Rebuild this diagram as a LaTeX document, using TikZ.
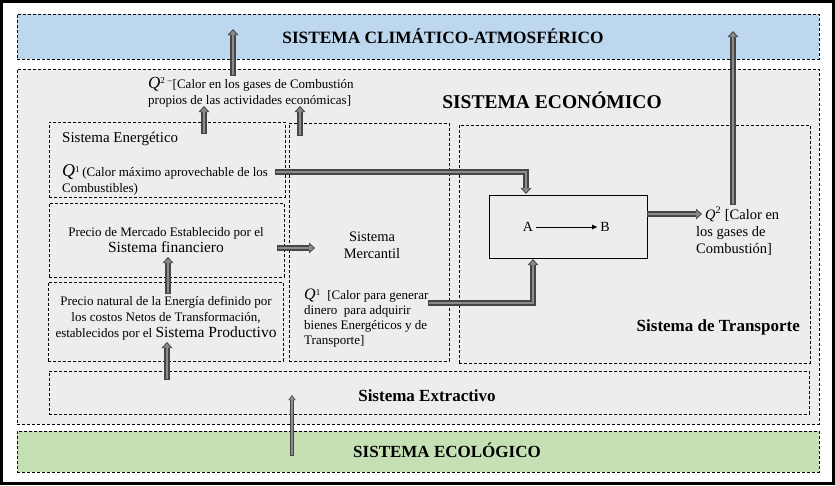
\documentclass[tikz,border=0pt]{standalone}
\usepackage{fontspec}
\setmainfont{Liberation Serif}
\usetikzlibrary{arrows.meta}
\definecolor{bandblue}{RGB}{189,215,238}
\definecolor{bandgreen}{RGB}{197,224,180}
\definecolor{econgrey}{RGB}{237,237,237}
\definecolor{arrdark}{RGB}{70,70,70}
\definecolor{arrmid}{RGB}{140,140,140}
\newcommand\fs[2]{\fontsize{#1}{#2}\selectfont}
\newcommand\bigQ[2]{{\fs{#1}{#1}\itshape Q}\textsuperscript{#2}}
\newcommand\barrow[1]{\draw[bouter] #1; \draw[binner] #1;}
\newcommand\sarrow[1]{\draw[souter] #1; \draw[sinner] #1;}
\begin{document}
\begin{tikzpicture}[x=1pt,y=-1pt,
  dbox/.style={draw, dash pattern=on 3pt off 2pt, line width=0.6pt, inner sep=0pt, outer sep=0pt, anchor=north west},
  txt/.style={inner sep=0pt, font=\fs{13}{16}},
  bouter/.style={draw=arrdark, line width=5.6pt, line join=miter, -{Triangle[length=6pt,width=10.5pt]}},
  binner/.style={draw=arrmid, line width=2.8pt, line join=miter, shorten >=1.5pt, shorten <=0.9pt, -{Triangle[length=4.2pt,width=7pt]}},
  souter/.style={draw=arrdark, line width=3.4pt, -{Triangle[length=5pt,width=7pt]}},
  sinner/.style={draw=arrmid, line width=1.6pt, shorten >=1.2pt, shorten <=0.8pt, -{Triangle[length=3.5pt,width=4.6pt]}}
]
\useasboundingbox (0,0) rectangle (835,485);
\draw[line width=3pt] (1.5,1.5) rectangle (833.5,483.5);

% bands
\node[dbox, fill=bandblue, minimum width=802pt, minimum height=45pt] (clima) at (17,14) {};
\node[dbox, fill=econgrey, minimum width=802pt, minimum height=355pt] (econ) at (17,69) {};
\node[dbox, fill=bandgreen, minimum width=802pt, minimum height=41pt] (eco) at (17,431) {};

% inner boxes
\node[dbox, minimum width=236pt, minimum height=75pt] (energ) at (49,122) {};
\node[dbox, minimum width=235pt, minimum height=74pt] (merc) at (49,203) {};
\node[dbox, minimum width=235pt, minimum height=79pt] (prod) at (48,282) {};
\node[dbox, minimum width=160pt, minimum height=238pt] (mcant) at (289,123) {};
\node[dbox, minimum width=351pt, minimum height=238pt] (transp) at (459,125) {};
\node[dbox, minimum width=760pt, minimum height=43pt] (extr) at (49,371) {};
\node[draw, line width=0.7pt, inner sep=0pt, anchor=north west, minimum width=158pt, minimum height=63pt] (ab) at (489,195) {};

% texts
\node[txt, font=\fs{17.3}{20}\bfseries] (climaT) at (443,36) {SISTEMA CLIM\'ATICO-ATMOSF\'ERICO};
\node[txt, font=\fs{19.5}{22}\bfseries] (econT) at (552,100) {SISTEMA ECON\'OMICO};
\node[txt, anchor=west, align=left] (q2top) at (148,92) {\bigQ{17}{2}\,\textsuperscript{--}[Calor en los gases de Combusti\'on\\propios de las actividades econ\'omicas]};
\node[txt, anchor=west, font=\fs{15}{18}] (energT) at (62,139) {Sistema Energ\'etico};
\node[txt, anchor=west, align=left] (q1e) at (62,180) {\bigQ{18}{1}\,(Calor m\'aximo aprovechable de los\\Combustibles)};
\node[txt, align=center] (mercT) at (166,240) {Precio de Mercado Establecido por el\\{\fs{15.5}{16}Sistema financiero}};
\node[txt, align=center] (prodT) at (166,318) {Precio natural de la Energ\'ia definido por\\los costos Netos de Transformaci\'on,\\establecidos por el {\fs{15.5}{16}Sistema Productivo}};
\node[txt, align=center, font=\fs{14.5}{17}] (mcantT) at (372,245.5) {Sistema\\Mercantil};
\node[txt, anchor=west, align=left, font=\fs{13}{15}] (q1m) at (304,318) {\bigQ{16}{1}\ \ [Calor para generar\\dinero\ \ para adquirir\\bienes Energ\'eticos y de\\Transporte]};
\node[txt, font=\fs{14}{16}] (A) at (528,227) {A};
\node[txt, font=\fs{14}{16}] (B) at (605,227) {B};
\node[txt, anchor=west, align=left, font=\fs{14.5}{17}] (q2r) at (696,231) {\hspace*{9pt}{\itshape Q}\textsuperscript{2} [Calor en\\los gases de\\Combusti\'on]};
\node[txt, anchor=east, font=\fs{17}{20}\bfseries] (transpT) at (800,327) {Sistema de Transporte};
\node[txt, font=\fs{17}{20}\bfseries] (extrT) at (427,396) {Sistema Extractivo};
\node[txt, font=\fs{17}{20}\bfseries] (ecoT) at (447,450) {SISTEMA ECOL\'OGICO};

% connector coordinates
\coordinate (c1s) at (233,76);  \coordinate (c1e) at (233,29);
\coordinate (c2s) at (733,205); \coordinate (c2e) at (733,31);
\coordinate (c3s) at (204,134); \coordinate (c3e) at (204,106);
\coordinate (c4s) at (300,136); \coordinate (c4e) at (300,106);
\coordinate (c5s) at (275,172); \coordinate (c5e) at (526,194);
\coordinate (c6s) at (428,303); \coordinate (c6e) at (533,259);
\coordinate (c7s) at (647,214); \coordinate (c7e) at (702,214);
\coordinate (c8s) at (277,248); \coordinate (c8e) at (315,248);
\coordinate (c9s) at (168,294); \coordinate (c9e) at (168,257);
\coordinate (c10s) at (167,380); \coordinate (c10e) at (167,342);
\coordinate (c11s) at (292,456); \coordinate (c11e) at (292,395);

\barrow{(c1s) -- (c1e)}
\barrow{(c2s) -- (c2e)}
\barrow{(c3s) -- (c3e)}
\barrow{(c4s) -- (c4e)}
\barrow{(c5s) -| (c5e)}
\barrow{(c6s) -| (c6e)}
\barrow{(c7s) -- (c7e)}
\barrow{(c8s) -- (c8e)}
\barrow{(c9s) -- (c9e)}
\barrow{(c10s) -- (c10e)}
\sarrow{(c11s) -- (c11e)}
\draw[line width=0.7pt, shorten <=3pt, shorten >=3pt, -{Triangle[length=5pt,width=4.5pt]}] (A) -- (B);
\end{tikzpicture}
\end{document}
